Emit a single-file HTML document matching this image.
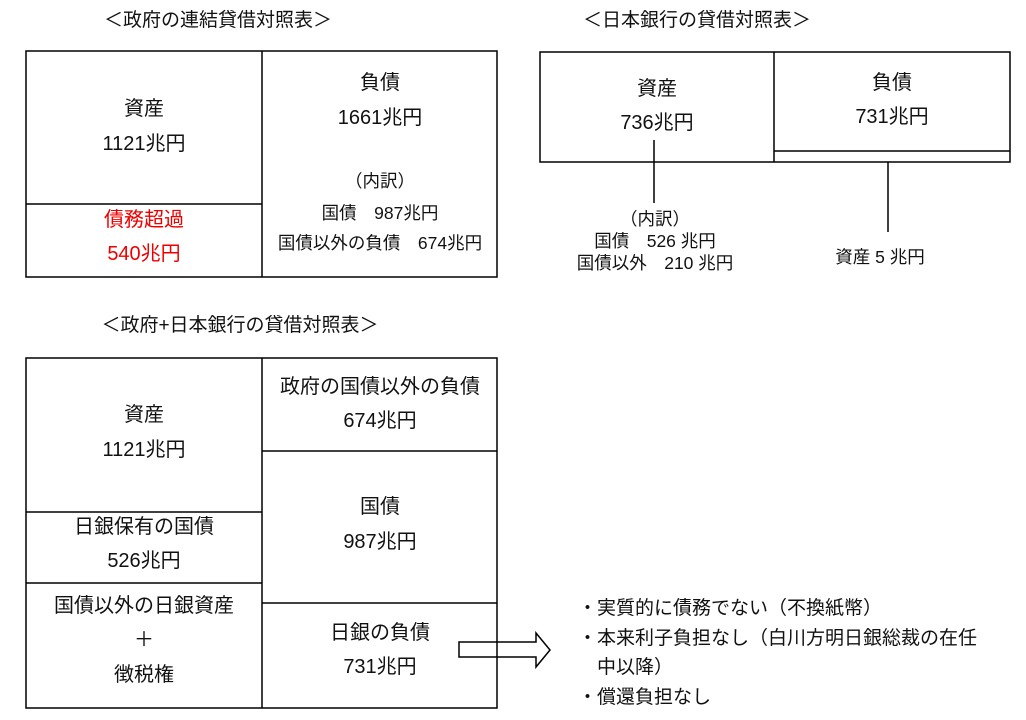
<!DOCTYPE html>
<html><head><meta charset="utf-8"><style>
body{margin:0;width:1026px;height:720px;background:#fff;position:relative;overflow:hidden;font-family:"Liberation Sans","Noto Sans CJK JP",sans-serif;color:#111}
.t{position:absolute;font-size:20px;white-space:nowrap;line-height:22px}
.s{font-size:17.5px}
.c{transform:translateX(-50%);text-align:center}
svg{position:absolute;left:0;top:0}
</style></head><body>
<svg width="1026" height="720" fill="none" stroke="#000" stroke-width="1.5">
<rect x="26" y="51" width="471" height="226"/>
<line x1="262" y1="51" x2="262" y2="277"/>
<line x1="26" y1="204" x2="262" y2="204"/>
<rect x="540" y="52" width="470" height="110"/>
<line x1="774" y1="52" x2="774" y2="162"/>
<line x1="774" y1="151" x2="1010" y2="151"/>
<line x1="654" y1="140" x2="654" y2="203"/>
<line x1="888" y1="162" x2="888" y2="232"/>
<rect x="26" y="358" width="471" height="350"/>
<line x1="262" y1="358" x2="262" y2="708"/>
<line x1="26" y1="512" x2="262" y2="512"/>
<line x1="26" y1="583" x2="262" y2="583"/>
<line x1="262" y1="451" x2="497" y2="451"/>
<line x1="262" y1="603" x2="497" y2="603"/>
<path d="M459 642 H536 V633 L550 650 L536 667 V657 H459 Z"/>
</svg>
<div class="t c" style="left:218px;top:10px;font-size:19px">＜政府の連結貸借対照表＞</div>
<div class="t c" style="left:697px;top:10px;font-size:19px">＜日本銀行の貸借対照表＞</div>
<div class="t c" style="left:240px;top:315px;font-size:19px">＜政府+日本銀行の貸借対照表＞</div>

<div class="t c" style="left:144px;top:98px">資産</div>
<div class="t c" style="left:144px;top:133px">1121兆円</div>
<div class="t c" style="left:144px;top:209px;color:#e00">債務超過</div>
<div class="t c" style="left:144px;top:243px;color:#e00">540兆円</div>
<div class="t c" style="left:380px;top:72px">負債</div>
<div class="t c" style="left:380px;top:107px">1661兆円</div>
<div class="t c s" style="left:380px;top:170px">（内訳）</div>
<div class="t c s" style="left:380px;top:202px">国債　987兆円</div>
<div class="t c s" style="left:380px;top:232px">国債以外の負債　674兆円</div>

<div class="t c" style="left:657px;top:78px">資産</div>
<div class="t c" style="left:657px;top:112px">736兆円</div>
<div class="t c" style="left:892px;top:72px">負債</div>
<div class="t c" style="left:892px;top:106px">731兆円</div>
<div class="t c s" style="left:655px;top:208px">（内訳）</div>
<div class="t c s" style="left:655px;top:230px">国債　526 兆円</div>
<div class="t c s" style="left:655px;top:252px">国債以外　210 兆円</div>
<div class="t c s" style="left:880px;top:246px">資産 5 兆円</div>

<div class="t c" style="left:144px;top:404px">資産</div>
<div class="t c" style="left:144px;top:439px">1121兆円</div>
<div class="t c" style="left:144px;top:516px">日銀保有の国債</div>
<div class="t c" style="left:144px;top:550px">526兆円</div>
<div class="t c" style="left:144px;top:595px">国債以外の日銀資産</div>
<div class="t c" style="left:144px;top:629px">＋</div>
<div class="t c" style="left:144px;top:664px">徴税権</div>
<div class="t c" style="left:380px;top:376px">政府の国債以外の負債</div>
<div class="t c" style="left:380px;top:410px">674兆円</div>
<div class="t c" style="left:380px;top:496px">国債</div>
<div class="t c" style="left:380px;top:531px">987兆円</div>
<div class="t c" style="left:380px;top:622px">日銀の負債</div>
<div class="t c" style="left:380px;top:656px">731兆円</div>

<div class="t" style="left:578px;top:598px;font-size:19px">・実質的に債務でない（不換紙幣）</div>
<div class="t" style="left:578px;top:628px;font-size:19px">・本来利子負担なし（白川方明日銀総裁の在任</div>
<div class="t" style="left:578px;top:657px;font-size:19px">　中以降）</div>
<div class="t" style="left:578px;top:687px;font-size:19px">・償還負担なし</div>
</body></html>
